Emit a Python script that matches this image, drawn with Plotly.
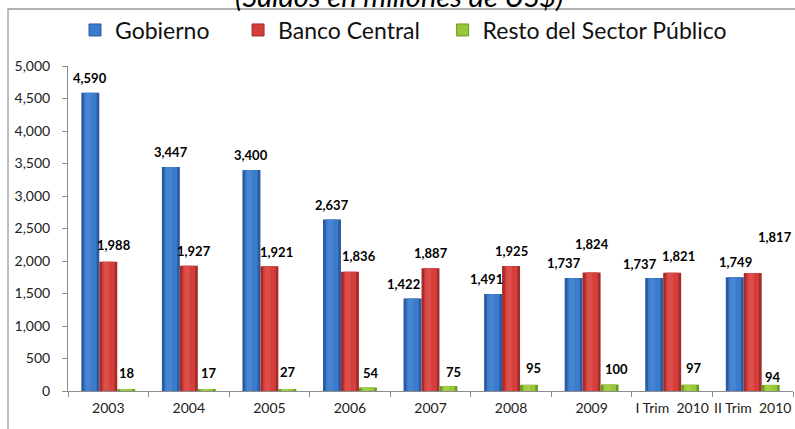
import plotly.graph_objects as go

categories = ["2003", "2004", "2005", "2006", "2007", "2008", "2009", "I Trim  2010", "II Trim  2010"]
gobierno = [4590, 3447, 3400, 2637, 1422, 1491, 1737, 1737, 1749]
banco_central = [1988, 1927, 1921, 1836, 1887, 1925, 1824, 1821, 1817]
resto = [18, 17, 27, 54, 75, 95, 100, 97, 94]
y_ticks = list(range(0, 5001, 500))
series_names = ["Gobierno", "Banco Central", "Resto del Sector Público"]

# label nudges (pixels) mimicking the hand-placed labels of the original
gob_dx = [0, 0, 0, 0, -9, -7, -10, -14, 1]
gob_dy = [15, 15, 15, 15, 15, 15, 15, 14, 15]
bc_dx = [6, 5, 7, 9, 0, 0, 0, 6, 22]
bc_dy = [17, 15, 14, 16, 15, 15, 28, 17, 36]
re_dx = [1, 2, 1, 3, 5, 4, 7, 4, 2]
re_dy = [17, 17, 17, 14, 14, 17, 16, 17, 8]

W, H = 795, 429
ML, MR, MT, MB = 68, 2, 66, 38
PW, PH = W - ML - MR, H - MT - MB

FONT = "Lato, Carlito, 'DejaVu Sans', sans-serif"
BW = 0.223  # bar width in category units
NBSP = "\u00a0"
series = [
    (series_names[0], gobierno, -1.5 * BW, ("#2b5a9e", "#3b7bcb", "#5e9ae0"), 4),
    (series_names[1], banco_central, -0.5 * BW, ("#a52c2a", "#d43f3c", "#e86a66"), 3),
    (series_names[2], resto, 0.5 * BW, ("#6e9a26", "#99c63a", "#b9de62"), 0),
]

fig = go.Figure()
for name, vals, off, (dark, mid, light), pad in series:
    fig.add_trace(go.Bar(
        x=categories, y=vals, name=name, offset=off, width=BW,
        marker=dict(color=dark, line=dict(width=0)),
        showlegend=False, hoverinfo="skip"))
    fig.add_trace(go.Bar(
        x=categories, y=vals, name=name, offset=off + BW * 0.15, width=BW * 0.7,
        marker=dict(color=mid, line=dict(width=0)),
        showlegend=False, hoverinfo="skip"))
    fig.add_trace(go.Bar(
        x=categories, y=vals, name=name, offset=off + BW * 0.25, width=BW * 0.3,
        marker=dict(color=light, line=dict(width=0)), opacity=0.35,
        showlegend=False, hoverinfo="skip"))
    # legend entry
    fig.add_trace(go.Bar(
        x=[categories[0]], y=[None], name=name + NBSP * pad,
        marker=dict(color=mid, line=dict(color=dark, width=1)),
        showlegend=True))

annotations = []
lab_font = dict(family=FONT, size=13, color="#000000")
for vals, dxs, dys, off in [(gobierno, gob_dx, gob_dy, -BW),
                            (banco_central, bc_dx, bc_dy, 0.0),
                            (resto, re_dx, re_dy, BW)]:
    for i, (c, v) in enumerate(zip(categories, vals)):
        annotations.append(dict(
            x=i + off, y=v, xref="x", yref="y", text=f"<b>{v:,}</b>",
            showarrow=False, xanchor="center", yanchor="middle",
            xshift=dxs[i], yshift=dys[i], font=lab_font))

# title (partly clipped at top, as in the original)
annotations.append(dict(
    x=(399 - ML) / PW, y=1.0, xref="paper", yref="paper", yshift=MT - 15,
    text="(Saldos en millones de US$)", showarrow=False,
    xanchor="center", yanchor="bottom",
    font=dict(family=FONT, size=29, color="#000000", style="italic")))

shapes = [dict(
    type="rect", xref="paper", yref="paper",
    x0=(8 - ML) / PW, x1=1.05, y0=-0.2, y1=(H - MB - 9) / PH,
    line=dict(color="#9a9a9a", width=1.3), fillcolor="rgba(0,0,0,0)", layer="below")]

fig.update_layout(
    width=W, height=H, margin=dict(l=ML, r=MR, t=MT, b=MB, autoexpand=False),
    paper_bgcolor="white", plot_bgcolor="white",
    barmode="overlay",
    font=dict(family=FONT, size=14, color="#222222"),
    legend=dict(orientation="h", x=(75 - ML) / PW, xanchor="left", y=(H - MB - 30) / PH,
                yanchor="middle", yref="paper", font=dict(size=23, color="#111111"),
                itemwidth=30, tracegroupgap=0, bgcolor="rgba(0,0,0,0)"),
    annotations=annotations, shapes=shapes,
    xaxis=dict(type="category", categoryorder="array", categoryarray=categories,
               range=[-0.5, len(categories) - 0.5], tickangle=0, automargin=False,
               showline=True, linecolor="#8c8c8c", linewidth=1,
               ticks="outside", tickson="boundaries", ticklen=5, tickcolor="#8c8c8c",
               showgrid=False, tickfont=dict(size=14, color="#222222"), ticklabelstandoff=4),
    yaxis=dict(range=[0, 5000], tickvals=y_ticks, tickformat=",", automargin=False,
               showline=True, linecolor="#8c8c8c", linewidth=1,
               ticks="outside", ticklen=5, tickcolor="#8c8c8c", ticklabelstandoff=9,
               showgrid=False, zeroline=False, tickfont=dict(size=14, color="#222222")),
)

fig.write_html("out.html", config={"displayModeBar": False},
               post_script="document.body.style.margin='0px';")
